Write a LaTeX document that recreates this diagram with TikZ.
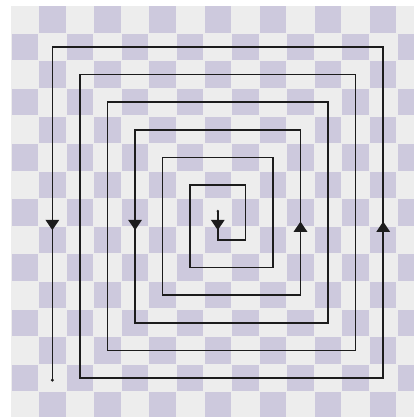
\documentclass[tikz,border=0pt]{standalone}
\definecolor{lightsq}{RGB}{237,237,237}
\definecolor{darksq}{RGB}{205,201,221}
\definecolor{spiralc}{RGB}{28,28,28}
\tikzset{
  spiralline/.style={draw=spiralc, line width=1.6bp, line join=miter},
  tipfill/.style={fill=spiralc},
}
\begin{document}
\begin{tikzpicture}[x=27.57bp,y=-27.57bp]
\useasboundingbox (0,0) rectangle (15.016,15.125);
\fill[white] (0,0) rectangle (15.016,15.125);
\begin{scope}
\clip (0,0) rectangle (15.016,15.125);
\begin{scope}[shift={(0.399,0.207)}]
  \fill[lightsq] (0,0) rectangle (15,15);
  \foreach \i in {0,...,14}{
    \foreach \j in {0,...,14}{
      \pgfmathtruncatemacro\parity{mod(\i+\j,2)}
      \ifnum\parity=1
        \fill[darksq] (\i+0.02,\j+0.02) rectangle (\i+0.98,\j+0.98);
      \fi
    }
  }
  % spiral
  \draw[spiralline] (7.5,7.45) -- (7.5,8.5) -- (8.5,8.5) -- (8.5,6.5) -- (6.5,6.5)
    -- (6.5,9.5) -- (9.5,9.5) -- (9.5,5.5) -- (5.5,5.5)
    -- (5.5,10.5) -- (10.5,10.5) -- (10.5,4.5) -- (4.5,4.5)
    -- (4.5,11.5) -- (11.5,11.5) -- (11.5,3.5) -- (3.5,3.5)
    -- (3.5,12.5) -- (12.5,12.5) -- (12.5,2.5) -- (2.5,2.5)
    -- (2.5,13.5) -- (13.5,13.5) -- (13.5,1.5) -- (1.5,1.5)
    -- (1.5,13.58);
  \fill[spiralc] (1.5,13.58) circle (0.06);
  \fill[spiralc] (7.5,7.45) circle (0.05);
  % arrowheads pointing down
  \foreach \x in {1.5,4.5,7.5}{
    \fill[tipfill] (\x-0.25,7.77) -- (\x+0.25,7.77) -- (\x,8.14) -- cycle;
  }
  % arrowheads pointing up
  \foreach \x in {10.5,13.5}{
    \fill[tipfill] (\x-0.25,8.2) -- (\x+0.25,8.2) -- (\x,7.83) -- cycle;
  }
\end{scope}
\end{scope}
\end{tikzpicture}
\end{document}
